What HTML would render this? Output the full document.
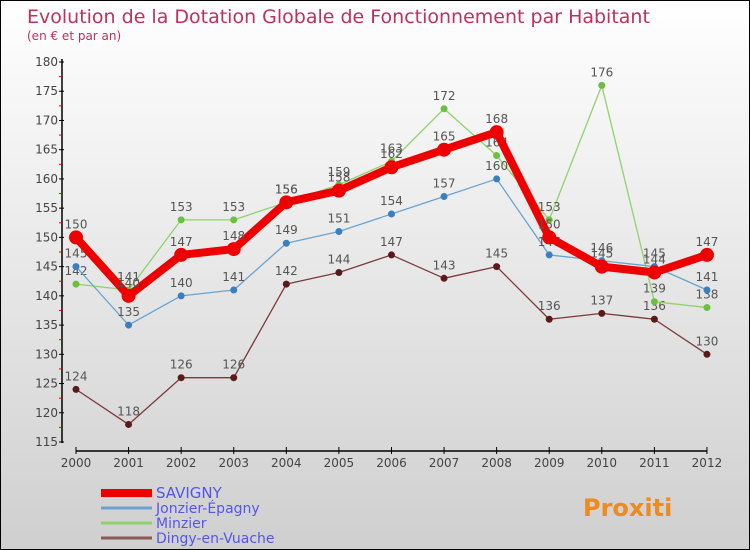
<!DOCTYPE html>
<html><head><meta charset="utf-8"><style>
body{margin:0}
#c{width:750px;height:550px;position:relative;overflow:hidden;background:linear-gradient(#ffffff,#cfcfcf);box-sizing:border-box;border:1px solid #000;font-family:"DejaVu Sans","Liberation Sans",sans-serif}
</style></head><body>
<div id="c">
<svg id="s" width="750" height="550" style="position:absolute;left:0;top:0"></svg>
</div>
<script>
const years=["2000","2001","2002","2003","2004","2005","2006","2007","2008","2009","2010","2011","2012"];
const savigny=[150,140,147,148,156,158,162,165,168,150,145,144,147];
const jonzier=[145,135,140,141,149,151,154,157,160,147,146,145,141];
const minzier=[142,141,153,153,156,159,163,172,164,153,176,139,138];
const dingy=[124,118,126,126,142,144,147,143,145,136,137,136,130];
const yTicks=[115,120,125,130,135,140,145,150,155,160,165,170,175,180];
const names=["SAVIGNY","Jonzier-Épagny","Minzier","Dingy-en-Vuache"];
const NS="http://www.w3.org/2000/svg";
const s=document.getElementById('s');
function X(i){return 75+i*52.58;}
function Y(v){return 441-(v-115)*5.846;}
function mk(t,a,txt){const e=document.createElementNS(NS,t);for(const k in a)e.setAttribute(k,a[k]);if(txt!==undefined)e.textContent=txt;s.appendChild(e);return e;}
let e;
e=mk('text',{x:26,y:22,fill:'#c0305a','font-size':19},'Evolution de la Dotation Globale de Fonctionnement par Habitant');

e=mk('text',{x:26,y:39,fill:'#c0305a','font-size':12},'(en € et par an)');

e=mk('line',{x1:61,y1:58,x2:61,y2:442,stroke:'#000','stroke-width':1.5});

yTicks.forEach(v=>{
 mk('line',{x1:58,y1:Y(v),x2:63,y2:Y(v),stroke:'#000'});
 if(v<180)mk('line',{x1:58,y1:Y(v+2.5),x2:61,y2:Y(v+2.5),stroke:'#e00'});
 e=mk('text',{x:57,y:Y(v)+4,'text-anchor':'end','font-size':12,fill:'#444'},v);
 
});
e=mk('line',{x1:75,y1:450,x2:706,y2:450,stroke:'#000','stroke-width':1.5});

years.forEach((y,i)=>{
 mk('line',{x1:X(i),y1:446,x2:X(i),y2:453,stroke:'#000'});
 e=mk('text',{x:X(i),y:466,'text-anchor':'middle','font-size':12,fill:'#444'},y);
 
});
const series=[
 {d:dingy,c:'#7a3a3a',p:'#5a1a1a',w:1.3,r:3.5,n:'dingy'},
 {d:minzier,c:'#8fd36a',p:'#6cc040',w:1.3,r:3.5,n:'minzier'},
 {d:jonzier,c:'#6aa3cf',p:'#3a7fbf',w:1.3,r:3.5,n:'jonzier'},
 {d:savigny,c:'#ee0000',p:'#ee0000',w:8,r:7,n:'savigny'}];
series.forEach(sr=>{
 e=mk('polyline',{points:sr.d.map((v,i)=>X(i)+','+Y(v)).join(' '),fill:'none',stroke:sr.c,'stroke-width':sr.w,'stroke-linejoin':'round'});
 
 sr.d.forEach((v,i)=>{
  e=mk('circle',{cx:X(i),cy:Y(v),r:sr.r,fill:sr.p});
  
  e=mk('text',{x:X(i),y:Y(v)-9,'text-anchor':'middle','font-size':12,fill:'#555'},v);
  
 });
});
const lc=['#ee0000','#6aa3cf','#8fd36a','#8a5a5a'],lw=[8,3,3,3];
names.forEach((n,i)=>{
 const y=492+i*15;
 e=mk('line',{x1:100,y1:y,x2:151,y2:y,stroke:lc[i],'stroke-width':lw[i]});
 
 e=mk('text',{x:155,y:y+5,'font-size':i==0?15:14,fill:'#5555ee'},n);
 
});
e=mk('text',{x:582,y:515,'font-size':24,'font-weight':'bold',fill:'#f08a1a'},'Proxiti');

</script>
</body></html>
